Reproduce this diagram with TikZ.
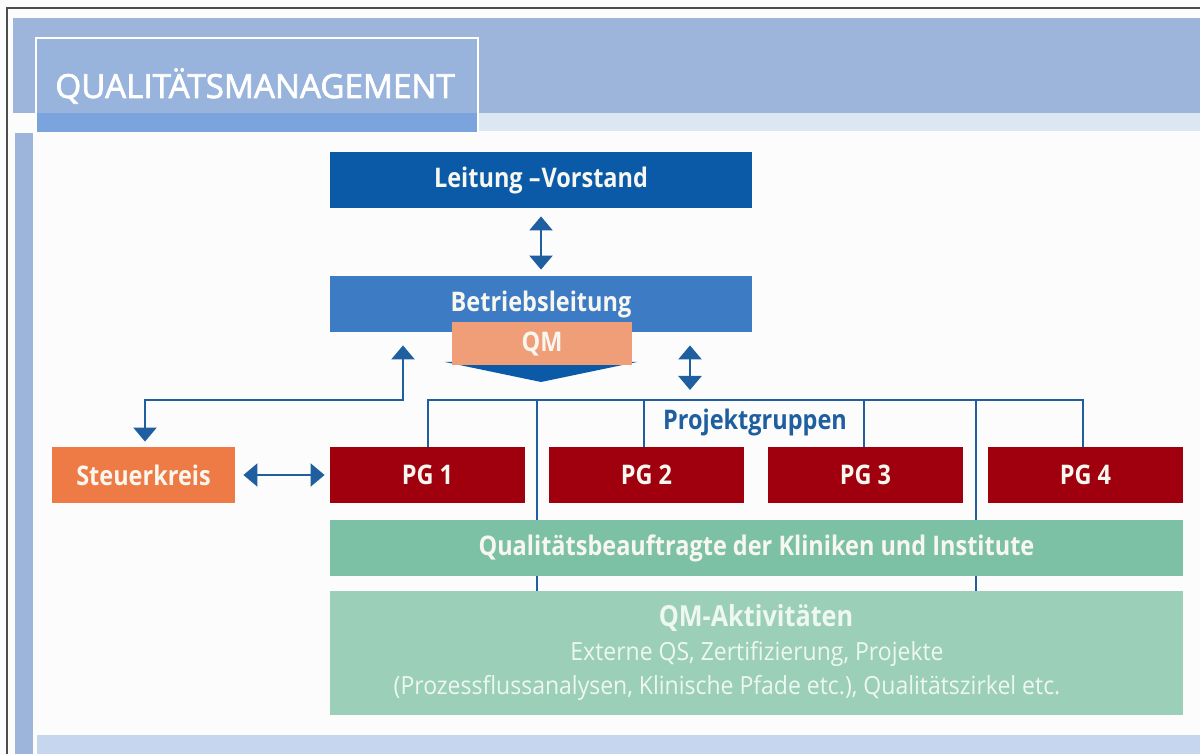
\documentclass[tikz,border=0pt]{standalone}
\usepackage{fontspec}
\setmainfont{Open Sans}
\newfontfamily\condfont[FakeStretch=0.87]{Open Sans}
\newfontfamily\condreg[FakeStretch=0.92]{Open Sans}
\newfontfamily\titlefont[FakeBold=2.2]{Open Sans}
\usetikzlibrary{arrows.meta}
\definecolor{bgc}{HTML}{FCFCFC}
\definecolor{band}{HTML}{9DB5DA}
\definecolor{lstrip}{HTML}{DDE6F3}
\definecolor{tabc}{HTML}{98B3DC}
\definecolor{tabstrip}{HTML}{7BA3DE}
\definecolor{bstrip}{HTML}{C5D6EE}
\definecolor{darkblue}{HTML}{0A5AA8}
\definecolor{midblue}{HTML}{3D7CC4}
\definecolor{salmon}{HTML}{EF9E78}
\definecolor{orangec}{HTML}{EE7A45}
\definecolor{pgred}{HTML}{A0000E}
\definecolor{greenA}{HTML}{7CC0A5}
\definecolor{greenB}{HTML}{9BCFB8}
\definecolor{linec}{HTML}{1F5FA0}
\definecolor{txtw}{HTML}{F7F7F0}
\definecolor{txtg}{HTML}{EEF7F2}
\tikzset{
  boxnode/.style={inner sep=0pt, text=txtw, font=\condfont\fontsize{13.5}{15}\selectfont\bfseries},
  arr/.style={draw=linec, line width=1.1pt, {Triangle[width=11.5pt,length=7pt]}-{Triangle[width=11.5pt,length=7pt]}},
  conn/.style={draw=linec, line width=1pt},
}
\begin{document}
\begin{tikzpicture}[x=0.5pt,y=-0.5pt]
\useasboundingbox (0,0) rectangle (1200,754);
\fill[bgc] (0,0) rectangle (1200,754);
% frame
\fill[band] (13,18) rectangle (1200,113);
\fill[lstrip] (478,113) rectangle (1200,131);
\fill[band] (15,133) rectangle (33,754);
\fill[bstrip] (37,735) rectangle (1200,754);
\draw[black!70, line width=0.7pt] (7,754) -- (7,8) -- (1200,8);
% title tab
\fill[tabc] (36,38) rectangle (478,132);
\fill[tabstrip] (36,113) rectangle (478,132);
\draw[white, line width=1.2pt] (36,132) -- (36,38) -- (478,38) -- (478,132);
\node[anchor=base west, inner sep=0pt, text=white, font=\titlefont\fontsize{16.6}{18}\selectfont] (title) at (55,98) {QUALITÄTSMANAGEMENT};

% coordinates for bracket
\coordinate (bl1) at (428,400);
\coordinate (br1) at (1083,400);
\coordinate (vA) at (537,400);
\coordinate (vB) at (976,400);

% lower boxes first (lines behind)
\node[boxnode, fill=greenB, minimum width=426.5pt, minimum height=62pt] (qa) at (756.5,653) {};
\draw[conn] (vA) -- (vA |- qa.north);
\draw[conn] (vB) -- (vB |- qa.north);

% main boxes
\node[boxnode, fill=darkblue, minimum width=211pt, minimum height=28pt] (lv) at (541,180) {Leitung –\hspace{0.5pt}Vorstand};
\node[boxnode, fill=midblue, minimum width=211pt, minimum height=28pt] (bl) at (541,304) {Betriebsleitung};
\fill[darkblue] (445,362) -- (637,362) -- (541,382) -- cycle;
\node[boxnode, fill=salmon, minimum width=90pt, minimum height=21.5pt] (qm) at (542,344) {QM};
\node[boxnode, fill=orangec, minimum width=91.5pt, minimum height=28pt] (sk) at (143.5,475) {Steuerkreis};
\node[boxnode, fill=pgred, minimum width=97.5pt, minimum height=28pt] (pg1) at (427.5,475) {PG 1};
\node[boxnode, fill=pgred, minimum width=97.5pt, minimum height=28pt] (pg2) at (646.5,475) {PG 2};
\node[boxnode, fill=pgred, minimum width=97.5pt, minimum height=28pt] (pg3) at (865.5,475) {PG 3};
\node[boxnode, fill=pgred, minimum width=97.5pt, minimum height=28pt] (pg4) at (1085.5,475) {PG 4};
\node[boxnode, fill=greenA, minimum width=426.5pt, minimum height=28pt] (qb) at (756.5,548) {Qualitätsbeauftragte der Kliniken und Institute};

\node[inner sep=0pt, text=linec, font=\condfont\fontsize{13.5}{15}\selectfont\bfseries] (pgl) at (755,422) {Projektgruppen};

% QM-Aktivitaeten text
\node[anchor=base, inner sep=0pt, text=txtg, font=\condfont\fontsize{14.5}{16}\selectfont\bfseries] (qa1) at (756,626) {QM-Aktivitäten};
\node[anchor=base, inner sep=0pt, text=txtg, font=\condreg\fontsize{12.5}{15}\selectfont] (qa2) at (757,660) {Externe QS, Zertifizierung, Projekte};
\node[anchor=base, inner sep=0pt, text=txtg, font=\condreg\fontsize{12.5}{15}\selectfont] (qa3) at (727,694) {(Prozessflussanalysen, Klinische Pfade etc.), Qualitätszirkel etc.};

% bracket
\draw[conn] (bl1 |- pg1.north) -- (bl1) -- (br1) -- (br1 |- pg4.north);
\draw[conn] (pg2.north -| 644,0) -- (644,400);
\draw[conn] (pg3.north -| 864,0) -- (864,400);

% arrows
\draw[arr, shorten <=4pt, shorten >=3pt] (lv.south) -- (bl.south |- bl.north);
\draw[arr, shorten <=6.5pt, shorten >=5pt] (bl.south -| 690,0) -- (690,400);
\coordinate (sj1) at (403,400);
\coordinate (sj2) at (145,400);
\draw[arr, shorten <=6.5pt, shorten >=2.5pt] (bl.south -| sj1) -- (sj1) -- (sj2) -- (sj2 |- sk.north);
\draw[arr, shorten <=4pt, shorten >=2.5pt] (sk.east) -- (pg1.west);
\end{tikzpicture}
\end{document}
